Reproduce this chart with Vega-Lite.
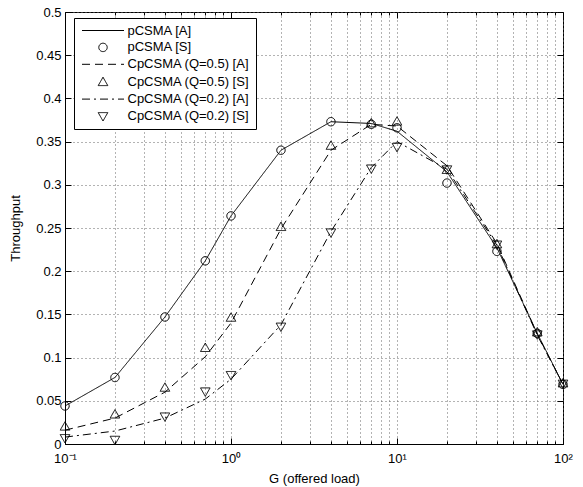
{
  "$schema": "https://vega.github.io/schema/vega-lite/v6.json",
  "width": 498,
  "height": 432,
  "autosize": {"type": "none"},
  "padding": {"left": 65, "top": 12, "right": 20, "bottom": 43},
  "background": "white",
  "config": {
    "font": "Liberation Sans",
    "view": {"stroke": "black", "strokeWidth": 1},
    "axis": {
      "labelFont": "Liberation Sans",
      "titleFont": "Liberation Sans",
      "labelFontSize": 13,
      "titleFontSize": 13,
      "titleFontWeight": "normal",
      "labelColor": "black",
      "titleColor": "black",
      "domainColor": "black",
      "tickColor": "black",
      "gridColor": "#666",
      "gridDash": [1, 3],
      "gridWidth": 1
    }
  },
  "resolve": {"legend": {"strokeDash": "independent", "shape": "independent"}},
  "data": {
    "values": [
      {"G": 0.1, "series": "pCSMA [A]", "T": 0.044},
      {"G": 0.2, "series": "pCSMA [A]", "T": 0.077},
      {"G": 0.4, "series": "pCSMA [A]", "T": 0.147},
      {"G": 0.7, "series": "pCSMA [A]", "T": 0.212},
      {"G": 1, "series": "pCSMA [A]", "T": 0.264},
      {"G": 2, "series": "pCSMA [A]", "T": 0.340},
      {"G": 4, "series": "pCSMA [A]", "T": 0.373},
      {"G": 7, "series": "pCSMA [A]", "T": 0.371},
      {"G": 10, "series": "pCSMA [A]", "T": 0.362},
      {"G": 20, "series": "pCSMA [A]", "T": 0.315},
      {"G": 40, "series": "pCSMA [A]", "T": 0.227},
      {"G": 70, "series": "pCSMA [A]", "T": 0.128},
      {"G": 100, "series": "pCSMA [A]", "T": 0.069},
      {"G": 0.1, "series": "pCSMA [S]", "T": 0.044},
      {"G": 0.2, "series": "pCSMA [S]", "T": 0.077},
      {"G": 0.4, "series": "pCSMA [S]", "T": 0.147},
      {"G": 0.7, "series": "pCSMA [S]", "T": 0.212},
      {"G": 1, "series": "pCSMA [S]", "T": 0.264},
      {"G": 2, "series": "pCSMA [S]", "T": 0.340},
      {"G": 4, "series": "pCSMA [S]", "T": 0.373},
      {"G": 7, "series": "pCSMA [S]", "T": 0.370},
      {"G": 10, "series": "pCSMA [S]", "T": 0.366},
      {"G": 20, "series": "pCSMA [S]", "T": 0.302},
      {"G": 40, "series": "pCSMA [S]", "T": 0.223},
      {"G": 70, "series": "pCSMA [S]", "T": 0.128},
      {"G": 100, "series": "pCSMA [S]", "T": 0.069},
      {"G": 0.1, "series": "CpCSMA (Q=0.5) [A]", "T": 0.016},
      {"G": 0.2, "series": "CpCSMA (Q=0.5) [A]", "T": 0.030},
      {"G": 0.4, "series": "CpCSMA (Q=0.5) [A]", "T": 0.060},
      {"G": 0.7, "series": "CpCSMA (Q=0.5) [A]", "T": 0.101},
      {"G": 1, "series": "CpCSMA (Q=0.5) [A]", "T": 0.140},
      {"G": 2, "series": "CpCSMA (Q=0.5) [A]", "T": 0.249},
      {"G": 4, "series": "CpCSMA (Q=0.5) [A]", "T": 0.340},
      {"G": 7, "series": "CpCSMA (Q=0.5) [A]", "T": 0.370},
      {"G": 10, "series": "CpCSMA (Q=0.5) [A]", "T": 0.368},
      {"G": 20, "series": "CpCSMA (Q=0.5) [A]", "T": 0.322},
      {"G": 40, "series": "CpCSMA (Q=0.5) [A]", "T": 0.232},
      {"G": 70, "series": "CpCSMA (Q=0.5) [A]", "T": 0.127},
      {"G": 100, "series": "CpCSMA (Q=0.5) [A]", "T": 0.069},
      {"G": 0.1, "series": "CpCSMA (Q=0.5) [S]", "T": 0.020},
      {"G": 0.2, "series": "CpCSMA (Q=0.5) [S]", "T": 0.034},
      {"G": 0.4, "series": "CpCSMA (Q=0.5) [S]", "T": 0.065},
      {"G": 0.7, "series": "CpCSMA (Q=0.5) [S]", "T": 0.111},
      {"G": 1, "series": "CpCSMA (Q=0.5) [S]", "T": 0.146},
      {"G": 2, "series": "CpCSMA (Q=0.5) [S]", "T": 0.251},
      {"G": 4, "series": "CpCSMA (Q=0.5) [S]", "T": 0.345},
      {"G": 7, "series": "CpCSMA (Q=0.5) [S]", "T": 0.371},
      {"G": 10, "series": "CpCSMA (Q=0.5) [S]", "T": 0.373},
      {"G": 20, "series": "CpCSMA (Q=0.5) [S]", "T": 0.317},
      {"G": 40, "series": "CpCSMA (Q=0.5) [S]", "T": 0.231},
      {"G": 70, "series": "CpCSMA (Q=0.5) [S]", "T": 0.129},
      {"G": 100, "series": "CpCSMA (Q=0.5) [S]", "T": 0.070},
      {"G": 0.1, "series": "CpCSMA (Q=0.2) [A]", "T": 0.008},
      {"G": 0.2, "series": "CpCSMA (Q=0.2) [A]", "T": 0.015},
      {"G": 0.4, "series": "CpCSMA (Q=0.2) [A]", "T": 0.030},
      {"G": 0.7, "series": "CpCSMA (Q=0.2) [A]", "T": 0.052},
      {"G": 1, "series": "CpCSMA (Q=0.2) [A]", "T": 0.075},
      {"G": 2, "series": "CpCSMA (Q=0.2) [A]", "T": 0.138},
      {"G": 4, "series": "CpCSMA (Q=0.2) [A]", "T": 0.246},
      {"G": 7, "series": "CpCSMA (Q=0.2) [A]", "T": 0.320},
      {"G": 10, "series": "CpCSMA (Q=0.2) [A]", "T": 0.350},
      {"G": 20, "series": "CpCSMA (Q=0.2) [A]", "T": 0.318},
      {"G": 40, "series": "CpCSMA (Q=0.2) [A]", "T": 0.230},
      {"G": 70, "series": "CpCSMA (Q=0.2) [A]", "T": 0.126},
      {"G": 100, "series": "CpCSMA (Q=0.2) [A]", "T": 0.069},
      {"G": 0.1, "series": "CpCSMA (Q=0.2) [S]", "T": 0.007},
      {"G": 0.2, "series": "CpCSMA (Q=0.2) [S]", "T": 0.005},
      {"G": 0.4, "series": "CpCSMA (Q=0.2) [S]", "T": 0.032},
      {"G": 0.7, "series": "CpCSMA (Q=0.2) [S]", "T": 0.061},
      {"G": 1, "series": "CpCSMA (Q=0.2) [S]", "T": 0.080},
      {"G": 2, "series": "CpCSMA (Q=0.2) [S]", "T": 0.136},
      {"G": 4, "series": "CpCSMA (Q=0.2) [S]", "T": 0.245},
      {"G": 7, "series": "CpCSMA (Q=0.2) [S]", "T": 0.319},
      {"G": 10, "series": "CpCSMA (Q=0.2) [S]", "T": 0.344},
      {"G": 20, "series": "CpCSMA (Q=0.2) [S]", "T": 0.318},
      {"G": 40, "series": "CpCSMA (Q=0.2) [S]", "T": 0.231},
      {"G": 70, "series": "CpCSMA (Q=0.2) [S]", "T": 0.127},
      {"G": 100, "series": "CpCSMA (Q=0.2) [S]", "T": 0.070}
    ]
  },
  "layer": [
    {
      "transform": [{"filter": "indexof(datum.series, '[A]') >= 0"}],
      "mark": {"type": "line", "color": "black", "strokeWidth": 1},
      "encoding": {
        "x": {
          "field": "G", "type": "quantitative",
          "scale": {"type": "log", "domain": [0.1, 100], "nice": false},
          "axis": {
            "title": "G (offered load)",
            "orient": "bottom",
            "values": [0.1,0.2,0.3,0.4,0.5,0.6,0.7,0.8,0.9,1,2,3,4,5,6,7,8,9,10,20,30,40,50,60,70,80,90,100],
            "labelExpr": "datum.value == 0.1 ? '10⁻¹' : datum.value == 1 ? '10⁰' : datum.value == 10 ? '10¹' : datum.value == 100 ? '10²' : ''",
            "labelOverlap": false,
            "labelFlush": false,
            "tickSize": {"condition": {"test": "datum.value == 0.1 || datum.value == 1 || datum.value == 10 || datum.value == 100", "value": -6}, "value": -3},
            "labelPadding": 14,
            "titlePadding": 4,
            "grid": true
          }
        },
        "y": {
          "field": "T", "type": "quantitative",
          "scale": {"domain": [0, 0.5], "nice": false, "zero": false},
          "axis": {
            "title": "Throughput",
            "orient": "left",
            "values": [0,0.05,0.1,0.15,0.2,0.25,0.3,0.35,0.4,0.45,0.5],
            "format": "~g",
            "tickSize": -6,
            "labelPadding": 10,
            "titlePadding": 13,
            "grid": true
          }
        },
        "strokeDash": {
          "field": "series", "type": "nominal",
          "scale": {
            "domain": ["pCSMA [A]", "pCSMA [S]", "CpCSMA (Q=0.5) [A]", "CpCSMA (Q=0.5) [S]", "CpCSMA (Q=0.2) [A]", "CpCSMA (Q=0.2) [S]"],
            "range": [[1, 0], [1, 0], [8, 5], [1, 0], [8, 4, 2, 4], [1, 0]]
          },
          "legend": null
        },
        "detail": {"field": "series"}
      }
    },
    {
      "transform": [{"filter": "indexof(datum.series, '[S]') >= 0"}],
      "mark": {"type": "point", "filled": false, "color": "black", "strokeWidth": 1, "size": 100, "opacity": 1},
      "encoding": {
        "x": {
          "field": "G", "type": "quantitative",
          "axis": {
            "orient": "top", "title": null, "labels": false, "grid": false, "domain": false,
            "values": [0.1,0.2,0.3,0.4,0.5,0.6,0.7,0.8,0.9,1,2,3,4,5,6,7,8,9,10,20,30,40,50,60,70,80,90,100],
            "tickSize": {"condition": {"test": "datum.value == 0.1 || datum.value == 1 || datum.value == 10 || datum.value == 100", "value": -6}, "value": -3}
          }
        },
        "y": {
          "field": "T", "type": "quantitative",
          "axis": {
            "orient": "right", "title": null, "labels": false, "grid": false, "domain": false,
            "values": [0,0.05,0.1,0.15,0.2,0.25,0.3,0.35,0.4,0.45,0.5],
            "tickSize": -6
          }
        },
        "strokeDash": {
          "field": "series", "type": "nominal",
          "legend": {"title": null}
        },
        "shape": {
          "field": "series", "type": "nominal",
          "scale": {
            "domain": ["pCSMA [A]", "pCSMA [S]", "CpCSMA (Q=0.5) [A]", "CpCSMA (Q=0.5) [S]", "CpCSMA (Q=0.2) [A]", "CpCSMA (Q=0.2) [S]"],
            "range": [
              "M-4.2,0H4.2",
              "M0.84,0A0.84,0.84 0 1,1 -0.84,0A0.84,0.84 0 1,1 0.84,0Z",
              "M-4.2,0H4.2",
              "M0,-1L0.96,0.68L-0.96,0.68Z",
              "M-4.2,0H4.2",
              "M0,1L0.96,-0.68L-0.96,-0.68Z"
            ]
          },
          "legend": {
            "title": null,
            "orient": "none",
            "legendX": 9,
            "legendY": 6,
            "fillColor": "white",
            "strokeColor": "black",
            "padding": 6,
            "labelFont": "Liberation Sans",
            "labelFontSize": 13,
            "labelColor": "black",
            "labelOffset": 18,
            "symbolOffset": 16.5,
            "rowPadding": 2.9,
            "symbolSize": 100,
            "symbolStrokeColor": "black",
            "symbolStrokeWidth": 1,
            "symbolFillColor": "transparent"
          }
        }
      }
    }
  ]
}
